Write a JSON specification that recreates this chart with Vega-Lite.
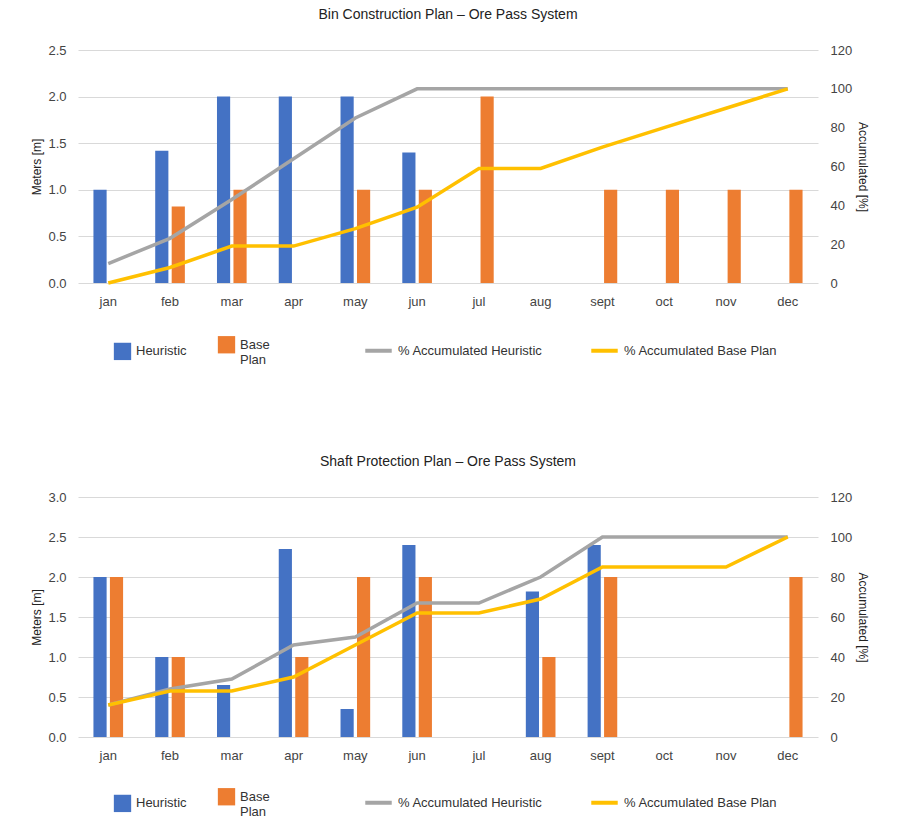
{
"$schema":"https://vega.github.io/schema/vega-lite/v6.json",
"background":"white",
"padding":{"left":30,"top":8,"right":10,"bottom":5},
"config":{"font":"Liberation Sans","view":{"stroke":null},"axis":{"labelFontSize":13,"titleFontSize":12,"titleFontWeight":"normal","labelColor":"#444","titleColor":"#222","domain":false,"ticks":false},"title":{"fontSize":14,"fontWeight":"normal","color":"#222","offset":22},"legend":{"labelFontSize":13,"labelColor":"#333"}},
"spacing":88,
"resolve":{"scale":{"color":"independent","stroke":"independent"},"legend":{"color":"independent","stroke":"independent"}},
"datasets":{
"b1":[{"m":"jan","s":"Heuristic","v":1.0},{"m":"feb","s":"Heuristic","v":1.42},{"m":"mar","s":"Heuristic","v":2.0},{"m":"apr","s":"Heuristic","v":2.0},{"m":"may","s":"Heuristic","v":2.0},{"m":"jun","s":"Heuristic","v":1.4},
{"m":"feb","s":"Base Plan","v":0.82},{"m":"mar","s":"Base Plan","v":1.0},{"m":"may","s":"Base Plan","v":1.0},{"m":"jun","s":"Base Plan","v":1.0},{"m":"jul","s":"Base Plan","v":2.0},{"m":"sept","s":"Base Plan","v":1.0},{"m":"oct","s":"Base Plan","v":1.0},{"m":"nov","s":"Base Plan","v":1.0},{"m":"dec","s":"Base Plan","v":1.0}],
"l1":[{"m":"jan","s":"% Accumulated Heuristic","p":10},{"m":"feb","s":"% Accumulated Heuristic","p":23},{"m":"mar","s":"% Accumulated Heuristic","p":43},{"m":"apr","s":"% Accumulated Heuristic","p":64},{"m":"may","s":"% Accumulated Heuristic","p":85},{"m":"jun","s":"% Accumulated Heuristic","p":100},{"m":"jul","s":"% Accumulated Heuristic","p":100},{"m":"aug","s":"% Accumulated Heuristic","p":100},{"m":"sept","s":"% Accumulated Heuristic","p":100},{"m":"oct","s":"% Accumulated Heuristic","p":100},{"m":"nov","s":"% Accumulated Heuristic","p":100},{"m":"dec","s":"% Accumulated Heuristic","p":100},
{"m":"jan","s":"% Accumulated Base Plan","p":0},{"m":"feb","s":"% Accumulated Base Plan","p":8},{"m":"mar","s":"% Accumulated Base Plan","p":19},{"m":"apr","s":"% Accumulated Base Plan","p":19},{"m":"may","s":"% Accumulated Base Plan","p":28},{"m":"jun","s":"% Accumulated Base Plan","p":39},{"m":"jul","s":"% Accumulated Base Plan","p":59},{"m":"aug","s":"% Accumulated Base Plan","p":59},{"m":"sept","s":"% Accumulated Base Plan","p":70},{"m":"oct","s":"% Accumulated Base Plan","p":80},{"m":"nov","s":"% Accumulated Base Plan","p":90},{"m":"dec","s":"% Accumulated Base Plan","p":100}],
"b2":[{"m":"jan","s":"Heuristic","v":2.0},{"m":"feb","s":"Heuristic","v":1.0},{"m":"mar","s":"Heuristic","v":0.65},{"m":"apr","s":"Heuristic","v":2.35},{"m":"may","s":"Heuristic","v":0.35},{"m":"jun","s":"Heuristic","v":2.4},{"m":"aug","s":"Heuristic","v":1.82},{"m":"sept","s":"Heuristic","v":2.4},
{"m":"jan","s":"Base Plan","v":2.0},{"m":"feb","s":"Base Plan","v":1.0},{"m":"apr","s":"Base Plan","v":1.0},{"m":"may","s":"Base Plan","v":2.0},{"m":"jun","s":"Base Plan","v":2.0},{"m":"aug","s":"Base Plan","v":1.0},{"m":"sept","s":"Base Plan","v":2.0},{"m":"dec","s":"Base Plan","v":2.0}],
"l2":[{"m":"jan","s":"% Accumulated Heuristic","p":16},{"m":"feb","s":"% Accumulated Heuristic","p":24},{"m":"mar","s":"% Accumulated Heuristic","p":29},{"m":"apr","s":"% Accumulated Heuristic","p":46},{"m":"may","s":"% Accumulated Heuristic","p":50},{"m":"jun","s":"% Accumulated Heuristic","p":67},{"m":"jul","s":"% Accumulated Heuristic","p":67},{"m":"aug","s":"% Accumulated Heuristic","p":80},{"m":"sept","s":"% Accumulated Heuristic","p":100},{"m":"oct","s":"% Accumulated Heuristic","p":100},{"m":"nov","s":"% Accumulated Heuristic","p":100},{"m":"dec","s":"% Accumulated Heuristic","p":100},
{"m":"jan","s":"% Accumulated Base Plan","p":16},{"m":"feb","s":"% Accumulated Base Plan","p":23},{"m":"mar","s":"% Accumulated Base Plan","p":23},{"m":"apr","s":"% Accumulated Base Plan","p":30},{"m":"may","s":"% Accumulated Base Plan","p":46},{"m":"jun","s":"% Accumulated Base Plan","p":62},{"m":"jul","s":"% Accumulated Base Plan","p":62},{"m":"aug","s":"% Accumulated Base Plan","p":69},{"m":"sept","s":"% Accumulated Base Plan","p":85},{"m":"oct","s":"% Accumulated Base Plan","p":85},{"m":"nov","s":"% Accumulated Base Plan","p":85},{"m":"dec","s":"% Accumulated Base Plan","p":100}]
},
"vconcat":[
{"title":"Bin Construction Plan – Ore Pass System","width":740,"height":233,
"layer":[
{"data":{"name":"b1"},"mark":{"type":"bar"},
"encoding":{"x":{"field":"m","type":"nominal","sort":["jan","feb","mar","apr","may","jun","jul","aug","sept","oct","nov","dec"],"scale":{"paddingInner":0.52,"paddingOuter":0.25},"axis":{"title":null,"labelAngle":0,"labelPadding":12}},
"xOffset":{"field":"s","sort":["Heuristic","Base Plan"],"scale":{"domain":["Heuristic","Base Plan"],"paddingInner":0.2}},
"y":{"field":"v","type":"quantitative","scale":{"domain":[0,2.5]},"axis":{"title":"Meters [m]","format":".1f","tickCount":5,"gridColor":"#d9d9d9","labelPadding":12}},
"color":{"field":"s","type":"nominal","scale":{"domain":["Heuristic","Base Plan"],"range":["#4472C4","#ED7D31"]},"legend":{"orient":"none","legendX":35,"legendY":285,"direction":"horizontal","title":null,"symbolType":"square","symbolSize":300,"columnPadding":30,"labelExpr":"datum.label == 'Base Plan' ? ['Base','Plan'] : datum.label"}}}},
{"data":{"name":"l1"},"mark":{"type":"line","strokeWidth":3.5},
"encoding":{"x":{"field":"m","type":"nominal","sort":["jan","feb","mar","apr","may","jun","jul","aug","sept","oct","nov","dec"]},
"y":{"field":"p","type":"quantitative","scale":{"domain":[0,120]},"axis":{"orient":"right","title":"Accumulated [%]","tickCount":6,"grid":false,"labelPadding":12}},
"stroke":{"field":"s","type":"nominal","scale":{"domain":["% Accumulated Heuristic","% Accumulated Base Plan"],"range":["#A5A5A5","#FFC000"]},"legend":{"orient":"none","legendX":285,"legendY":285,"direction":"horizontal","title":null,"symbolType":"stroke","symbolStrokeWidth":4,"symbolSize":700,"columnPadding":40}}}}
],
"resolve":{"scale":{"y":"independent"}}},
{"title":"Shaft Protection Plan – Ore Pass System","width":740,"height":240,
"layer":[
{"data":{"name":"b2"},"mark":{"type":"bar"},
"encoding":{"x":{"field":"m","type":"nominal","sort":["jan","feb","mar","apr","may","jun","jul","aug","sept","oct","nov","dec"],"scale":{"paddingInner":0.52,"paddingOuter":0.25},"axis":{"title":null,"labelAngle":0,"labelPadding":12}},
"xOffset":{"field":"s","sort":["Heuristic","Base Plan"],"scale":{"domain":["Heuristic","Base Plan"],"paddingInner":0.2}},
"y":{"field":"v","type":"quantitative","scale":{"domain":[0,3]},"axis":{"title":"Meters [m]","format":".1f","tickCount":6,"gridColor":"#d9d9d9","labelPadding":12}},
"color":{"field":"s","type":"nominal","scale":{"domain":["Heuristic","Base Plan"],"range":["#4472C4","#ED7D31"]},"legend":{"orient":"none","legendX":35,"legendY":290,"direction":"horizontal","title":null,"symbolType":"square","symbolSize":300,"columnPadding":30,"labelExpr":"datum.label == 'Base Plan' ? ['Base','Plan'] : datum.label"}}}},
{"data":{"name":"l2"},"mark":{"type":"line","strokeWidth":3.5},
"encoding":{"x":{"field":"m","type":"nominal","sort":["jan","feb","mar","apr","may","jun","jul","aug","sept","oct","nov","dec"]},
"y":{"field":"p","type":"quantitative","scale":{"domain":[0,120]},"axis":{"orient":"right","title":"Accumulated [%]","tickCount":6,"grid":false,"labelPadding":12}},
"stroke":{"field":"s","type":"nominal","scale":{"domain":["% Accumulated Heuristic","% Accumulated Base Plan"],"range":["#A5A5A5","#FFC000"]},"legend":{"orient":"none","legendX":285,"legendY":290,"direction":"horizontal","title":null,"symbolType":"stroke","symbolStrokeWidth":4,"symbolSize":700,"columnPadding":40}}}}
],
"resolve":{"scale":{"y":"independent"}}}
]
}
